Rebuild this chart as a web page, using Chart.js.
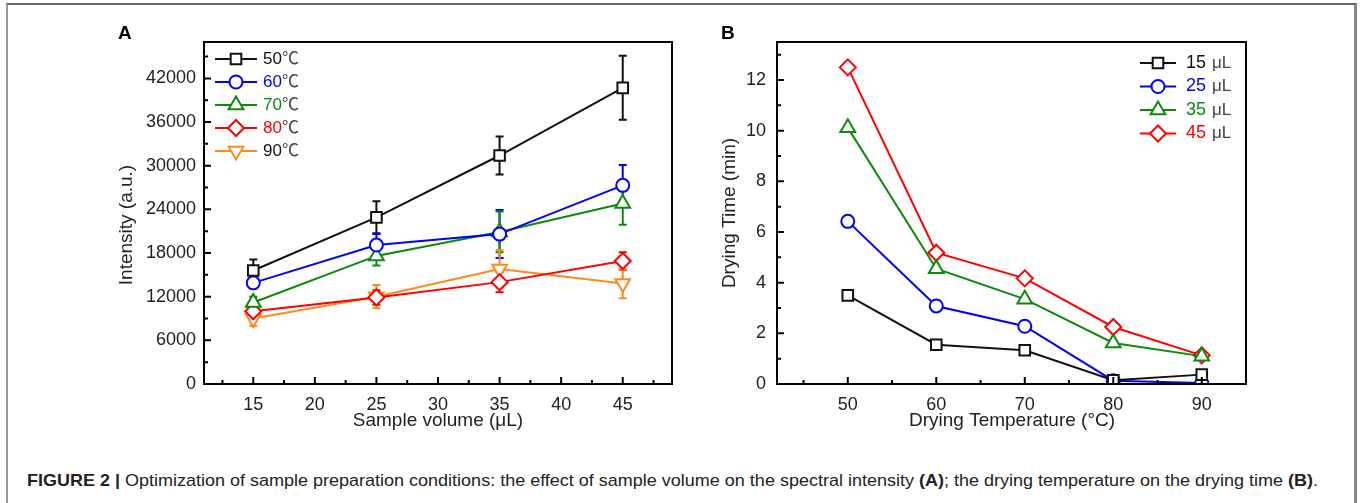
<!DOCTYPE html>
<html>
<head>
<meta charset="utf-8">
<script src="https://cdn.jsdelivr.net/npm/chart.js@4.4.1/dist/chart.umd.min.js"></script>
<style>
  html, body { margin:0; padding:0; background:#fff; width:1362px; height:503px; overflow:hidden; }
  #frame { position:absolute; left:6px; top:3px; width:1346px; height:600px;
           border-top:2px solid #666; border-left:2px solid #999; border-right:3px solid #888; }
  canvas { position:absolute; }
  #cA { left:100px; top:20px; }
  #cB { left:700px; top:20px; }
  #caption { position:absolute; left:27px; top:472px; font-family:"Liberation Sans", Arial, sans-serif;
             font-size:17px; line-height:17px; color:#222; white-space:nowrap; transform-origin:0 0; }
  #caption b { font-weight:bold; }
</style>
</head>
<body>
<div id="frame"></div>
<canvas id="cA" width="590" height="420" style="width:590px;height:420px"></canvas>
<canvas id="cB" width="590" height="420" style="width:590px;height:420px"></canvas>
<div id="caption"><span id="capText"><b>FIGURE 2 |</b> Optimization of sample preparation conditions: the effect of sample volume on the spectral intensity <b>(A)</b>; the drying temperature on the drying time <b>(B)</b>.</span></div>
<script>
// ---------------- DATA ----------------
// Panel A: sample volume (µL) vs intensity (a.u.)
const volumesA = [15, 25, 35, 45];
const labelsA = ['50', '60', '70', '80', '90'];
const int50 = [15600, 22900, 31400, 40700];
const int60 = [13900, 19100, 20600, 27300];
const int70 = [11200, 17600, 20900, 24800];
const int80 = [10000, 11900, 14000, 16900];
const int90 = [9000, 12000, 15800, 13800];
const err50 = [1500, 2200, 2600, 4400];
const err60 = [600, 1500, 3300, 2800];
const err70 = [800, 1300, 2800, 2900];
const err80 = [700, 1000, 1400, 1200];
const err90 = [1000, 1600, 2600, 2000];
const xTicksA = [15, 20, 25, 30, 35, 40, 45];
const xMinorA = [12.5, 17.5, 22.5, 27.5, 32.5, 37.5, 42.5, 47.5];
const yTicksA = [0, 6000, 12000, 18000, 24000, 30000, 36000, 42000];
const yMinorA = [3000, 9000, 15000, 21000, 27000, 33000, 39000, 45000];

// Panel B: drying temperature (°C) vs drying time (min)
const tempsB = [50, 60, 70, 80, 90];
const labelsB = ['15', '25', '35', '45'];
const time15 = [3.5, 1.55, 1.33, 0.15, 0.37];
const time25 = [6.42, 3.08, 2.28, 0.13, 0.04];
const time35 = [10.12, 4.55, 3.35, 1.62, 1.1];
const time45 = [12.5, 5.18, 4.17, 2.25, 1.13];
const xTicksB = [50, 60, 70, 80, 90];
const xMinorB = [45, 55, 65, 75, 85, 95];
const yTicksB = [0, 2, 4, 6, 8, 10, 12];
const yMinorB = [1, 3, 5, 7, 9, 11, 13];

// ---------------- STYLE ----------------
const BLACK = '#111', BLUE = '#0000ff', GREEN = '#0c8a0c', RED = '#ff0000', ORANGE = '#ff8a1a';
const FONT = '"Liberation Sans", Arial, "Noto Sans CJK SC", sans-serif';
Chart.defaults.font.family = FONT;
Chart.defaults.color = '#222';

function drawMarker(ctx, m, x, y) {
  const r = m.radius;
  ctx.save();
  ctx.beginPath();
  ctx.lineWidth = 2;
  ctx.strokeStyle = m.color;
  ctx.fillStyle = '#fff';
  if (m.style === 'rect') {
    const s = r * Math.SQRT1_2; ctx.rect(x - s, y - s, 2 * s, 2 * s);
  } else if (m.style === 'circle') {
    ctx.arc(x, y, r, 0, Math.PI * 2);
  } else if (m.style === 'rectRot') {
    ctx.moveTo(x, y - r); ctx.lineTo(x + r, y); ctx.lineTo(x, y + r); ctx.lineTo(x - r, y); ctx.closePath();
  } else if (m.style === 'triangle') {
    let a = (m.rotation || 0) * Math.PI / 180;
    ctx.moveTo(x + Math.sin(a) * r, y - Math.cos(a) * r);
    a += 2 * Math.PI / 3; ctx.lineTo(x + Math.sin(a) * r, y - Math.cos(a) * r);
    a += 2 * Math.PI / 3; ctx.lineTo(x + Math.sin(a) * r, y - Math.cos(a) * r);
    ctx.closePath();
  }
  ctx.fill(); ctx.stroke();
  ctx.restore();
}

function makePlugin(cfg) {
  return {
    id: 'deco' + cfg.letter,
    beforeDatasetsDraw(chart) {
      if (!cfg.errors) return;
      const ctx = chart.ctx, xs = chart.scales.x, ys = chart.scales.y;
      chart.data.datasets.forEach((ds, i) => {
        const e = cfg.errors[i];
        ctx.save(); ctx.strokeStyle = ds.borderColor; ctx.lineWidth = 2;
        ds.data.forEach((p, j) => {
          const px = xs.getPixelForValue(p.x);
          const yt = ys.getPixelForValue(p.y + e[j]), yb = ys.getPixelForValue(p.y - e[j]);
          ctx.beginPath();
          ctx.moveTo(px, yt); ctx.lineTo(px, yb);
          ctx.moveTo(px - 4, yt); ctx.lineTo(px + 4, yt);
          ctx.moveTo(px - 4, yb); ctx.lineTo(px + 4, yb);
          ctx.stroke();
        });
        ctx.restore();
      });
    },
    afterDraw(chart) {
      const ctx = chart.ctx, a = chart.chartArea, xs = chart.scales.x, ys = chart.scales.y;
      ctx.save();
      // frame
      ctx.strokeStyle = '#000'; ctx.lineWidth = 2;
      ctx.strokeRect(a.left, a.top, a.right - a.left, a.bottom - a.top);
      // inward ticks
      ctx.lineWidth = 2;
      ctx.beginPath();
      cfg.xTicks.forEach(v => { const p = xs.getPixelForValue(v); ctx.moveTo(p, a.bottom); ctx.lineTo(p, a.bottom - 7); });
      cfg.xMinor.forEach(v => { const p = xs.getPixelForValue(v); ctx.moveTo(p, a.bottom); ctx.lineTo(p, a.bottom - 4); });
      cfg.yTicks.forEach(v => { const p = ys.getPixelForValue(v); ctx.moveTo(a.left, p); ctx.lineTo(a.left + 7, p); });
      cfg.yMinor.forEach(v => { const p = ys.getPixelForValue(v); ctx.moveTo(a.left, p); ctx.lineTo(a.left + 4, p); });
      ctx.stroke();
      // axis titles
      ctx.fillStyle = '#222';
      ctx.font = '19px ' + FONT;
      ctx.textAlign = 'center'; ctx.textBaseline = 'middle';
      ctx.fillText(cfg.xTitle, cfg.xTitlePos[0], cfg.xTitlePos[1]);
      ctx.save();
      ctx.translate(cfg.yTitlePos[0], cfg.yTitlePos[1]); ctx.rotate(-Math.PI / 2);
      ctx.fillText(cfg.yTitle, 0, 0);
      ctx.restore();
      // panel letter
      ctx.font = 'bold 19px ' + FONT; ctx.textAlign = 'left'; ctx.fillStyle = '#000';
      ctx.fillText(cfg.letter, cfg.letterPos[0], cfg.letterPos[1]);
      // legend
      const L = cfg.legend;
      chart.data.datasets.forEach((ds, i) => {
        const y = L.y0 + i * L.dy;
        ctx.strokeStyle = ds.borderColor; ctx.lineWidth = 2;
        ctx.beginPath(); ctx.moveTo(L.x0, y); ctx.lineTo(L.x1, y); ctx.stroke();
        drawMarker(ctx, { style: ds.pointStyle, radius: ds.pointRadius, rotation: ds.pointRotation, color: ds.borderColor }, (L.x0 + L.x1) / 2, y);
        ctx.textAlign = 'left'; ctx.textBaseline = 'middle';
        ctx.font = L.numFont;
        ctx.fillStyle = L.textColors[i];
        const num = L.labels[i];
        ctx.fillText(num, L.tx, y);
        const w = ctx.measureText(num).width;
        ctx.font = L.unitFont;
        ctx.fillStyle = '#444';
        ctx.fillText(L.unit, L.tx + w + L.unitGap, y);
      });
      ctx.restore();
    }
  };
}

function series(xs, ys, label, color, style, radius, rot) {
  return {
    label, data: xs.map((x, i) => ({ x, y: ys[i] })),
    borderColor: color, backgroundColor: '#fff', borderWidth: 2,
    pointStyle: style, pointRadius: radius, pointRotation: rot || 0,
    pointBorderWidth: 2, pointBackgroundColor: '#fff', pointBorderColor: color,
    tension: 0, fill: false
  };
}

function axes(xmin, xmax, xTicks, ymin, ymax, yTicks, yWidth, yPad) {
  const common = { grid: { display: false, drawTicks: false }, border: { display: false } };
  return {
    x: Object.assign({}, common, {
      type: 'linear', min: xmin, max: xmax,
      afterBuildTicks: s => { s.ticks = xTicks.map(v => ({ value: v })); },
      afterFit: s => { s.height = 56; },
      ticks: { padding: 10, font: { size: 18 }, color: '#222', autoSkip: false, maxRotation: 0, callback: v => String(v) }
    }),
    y: Object.assign({}, common, {
      type: 'linear', min: ymin, max: ymax,
      afterBuildTicks: s => { s.ticks = yTicks.map(v => ({ value: v })); },
      afterFit: s => { s.width = yWidth; },
      ticks: { padding: yPad, font: { size: 18 }, color: '#222', autoSkip: false, callback: v => String(v) }
    })
  };
}

// ---------------- PANEL A ----------------
new Chart(document.getElementById('cA'), {
  type: 'line',
  data: {
    datasets: [
      series(volumesA, int50, '50', BLACK, 'rect', 7.5),
      series(volumesA, int60, '60', BLUE, 'circle', 6.5),
      series(volumesA, int70, '70', GREEN, 'triangle', 8.5),
      series(volumesA, int80, '80', RED, 'rectRot', 8),
      series(volumesA, int90, '90', ORANGE, 'triangle', 8.5, 180)
    ]
  },
  options: {
    responsive: false, animation: false, events: [], devicePixelRatio: 1,
    layout: { padding: { top: 22, right: 18, left: 0, bottom: 0 } },
    plugins: { legend: { display: false }, tooltip: { enabled: false } },
    scales: axes(11, 49, xTicksA, 0, 47000, yTicksA, 104, 8)
  },
  plugins: [makePlugin({
    letter: 'A', letterPos: [18, 14],
    errors: [err50, err60, err70, err80, err90],
    xTicks: xTicksA, xMinor: xMinorA, yTicks: yTicksA, yMinor: yMinorA,
    xTitle: 'Sample volume (\u03bcL)', xTitlePos: [338, 401],
    yTitle: 'Intensity (a.u.)', yTitlePos: [27, 205],
    legend: { x0: 115, x1: 157, tx: 163, y0: 39, dy: 23, labels: labelsA, unit: '\u2103', unitGap: 0,
              numFont: '17px ' + FONT, unitFont: '17px ' + FONT, textColors: [BLACK, BLUE, GREEN, RED, BLACK] }
  })]
});

// ---------------- PANEL B ----------------
new Chart(document.getElementById('cB'), {
  type: 'line',
  data: {
    datasets: [
      series(tempsB, time15, '15', BLACK, 'rect', 7.5),
      series(tempsB, time25, '25', BLUE, 'circle', 6.5),
      series(tempsB, time35, '35', GREEN, 'triangle', 8.5),
      series(tempsB, time45, '45', RED, 'rectRot', 8)
    ]
  },
  options: {
    responsive: false, animation: false, events: [], devicePixelRatio: 1,
    layout: { padding: { top: 22, right: 44, left: 0, bottom: 0 } },
    plugins: { legend: { display: false }, tooltip: { enabled: false } },
    scales: axes(42, 95, xTicksB, 0, 13.5, yTicksB, 77, 11)
  },
  plugins: [makePlugin({
    letter: 'B', letterPos: [21, 14],
    errors: null,
    xTicks: xTicksB, xMinor: xMinorB, yTicks: yTicksB, yMinor: yMinorB,
    xTitle: 'Drying Temperature (\u00b0C)', xTitlePos: [312, 401],
    yTitle: 'Drying Time (min)', yTitlePos: [30, 193],
    legend: { x0: 440, x1: 476, tx: 486, y0: 43, dy: 23.5, labels: labelsB, unit: '\u03bcL', unitGap: 6,
              numFont: '18px ' + FONT, unitFont: '17px ' + FONT, textColors: [BLACK, BLUE, GREEN, RED] }
  })]
});

// ---------------- CAPTION FIT ----------------
(function () {
  const span = document.getElementById('capText');
  const w = span.getBoundingClientRect().width;
  document.getElementById('caption').style.transform = 'scaleX(' + (1291 / w) + ')';
})();
</script>
</body>
</html>
